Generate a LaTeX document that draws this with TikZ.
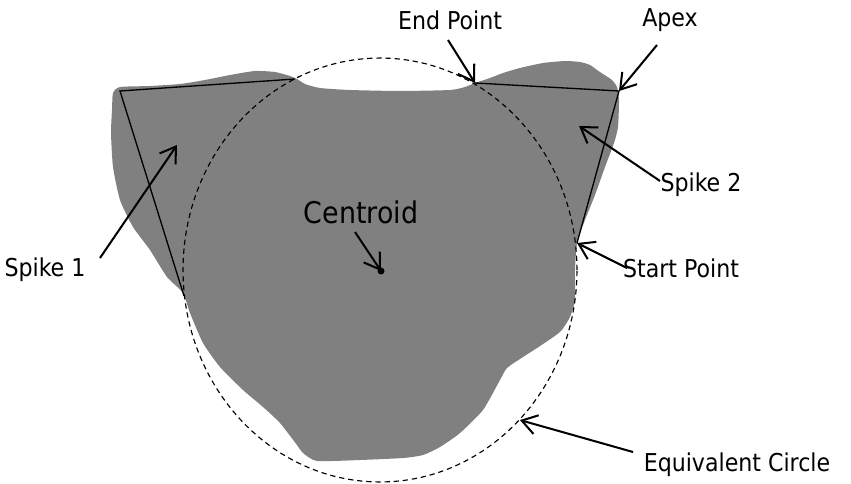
\documentclass[tikz,border=0pt]{standalone}
\usepackage{fontspec}
\setmainfont{DejaVu Sans Condensed}
\usetikzlibrary{arrows.meta,shapes.geometric}
\definecolor{blobgray}{HTML}{808080}
\tikzset{
  label text/.style={font=\fontsize{14}{16}\selectfont, inner sep=0pt},
  big text/.style={font=\fontsize{17}{19}\selectfont, inner sep=0pt},
  pointer/.style={line width=1.15pt, -{Straight Barb[length=8.5pt,width=11pt]}},
  chord/.style={line width=0.75pt},
  circ/.style={line width=0.65pt, dash pattern=on 3pt off 2.2pt},
}
\begin{document}
\begin{tikzpicture}[x=0.02cm, y=-0.02cm]
\useasboundingbox (0,0) rectangle (851,483);

% particle silhouette
\fill[blobgray] plot[smooth cycle, tension=0.35] coordinates {
 (113,93) (120,87) (150,86) (180,84) (205,80) (230,75) (255,71) (275,72)
 (290,76) (297,79) (305,84) (320,88) (350,90) (400,91) (450,90) (465,87)
 (475,83) (490,78) (503,73) (520,68) (543,63) (565,61) (580,62) (590,65)
 (597,70) (606,76) (612,80) (617,87) (619,100) (618,127) (614,143)
 (605,167) (595,195) (585,220) (577,243) (575,270) (575,300) (570,317)
 (560,332) (537,348) (523,357) (507,368) (500,380) (483,410) (460,433)
 (440,447) (423,455) (403,458) (360,460) (317,461) (303,453) (297,445)
 (280,423) (263,407) (243,390) (220,367) (203,343) (190,313) (183,293)
 (167,277) (150,250) (133,227) (120,200) (113,167) (111,133) (112,110)};

% equivalent circle
\node[circ, draw, ellipse, inner sep=0pt, minimum width=7.88cm, minimum height=8.48cm] (eqc) at (380,270) {};

% spike chords
\coordinate (s1apex) at (120,91);
\coordinate (s1end) at (295,79);
\coordinate (s1start) at (184,296);
\coordinate (s2apex) at (619,91);
\coordinate (s2end) at (475,83);
\coordinate (s2start) at (577,243);
\draw[chord] (s1end) -- (s1apex) -- (s1start);
\draw[chord] (s2end) -- (s2apex) -- (s2start);

% centroid
\fill (381,271) circle[radius=3.5] coordinate (cen);

% labels
\node[label text] (lend) at (450,20) {End Point};
\node[label text] (lapex) at (670,20) {Apex};
\node[label text] (lspike2) at (701,185) {Spike 2};
\node[label text] (lstart) at (681,268) {Start Point};
\node[label text] (lspike1) at (45,270) {Spike 1};
\node[label text] (leq) at (737,465) {Equivalent Circle};
\node[big text] (lcen) at (361,212) {Centroid};

% pointers
\coordinate (s1in) at (177,145);
\coordinate (s2in) at (579,126);
\draw[pointer] (448,40) -- (s2end);
\draw[pointer] (657,45) -- (s2apex);
\draw[pointer] (660,181) -- (s2in);
\draw[pointer] (627,268) -- (s2start);
\draw[pointer] (100,258) -- (s1in);
\draw[pointer] (355,232) -- (cen);
\draw[pointer] (633,452) -- (eqc.-47);
\end{tikzpicture}
\end{document}
